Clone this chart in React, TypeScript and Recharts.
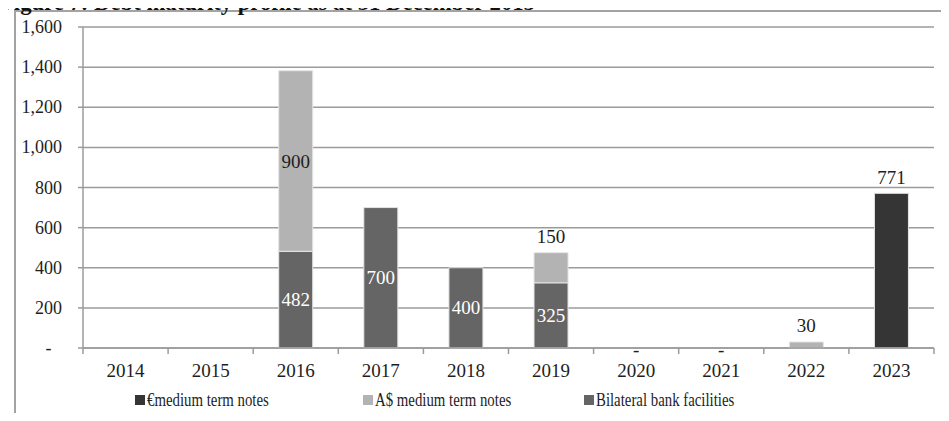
import React from 'react';
import { BarChart, Bar, XAxis, YAxis, CartesianGrid, Legend, LabelList } from 'recharts';

// Debt maturity profile (A$m)
const years = ['2014', '2015', '2016', '2017', '2018', '2019', '2020', '2021', '2022', '2023'];
const bilateralBank = [null, null, 482, 700, 400, 325, null, null, null, null];
const audMtn = [null, null, 900, null, null, 150, null, null, 30, null];
const euroMtn = [null, null, null, null, null, null, 0, 0, null, 771];
const yTicks = [0, 200, 400, 600, 800, 1000, 1200, 1400, 1600];

const data = years.map((year, i) => ({
  year,
  bilateral: bilateralBank[i],
  aud: audMtn[i],
  eur: euroMtn[i],
}));

const W = 949;
const H = 421;
const MARGIN = { top: 27, right: 15, left: 13, bottom: 9 };
const Y_AXIS_W = 70;
const BAND = (W - MARGIN.left - Y_AXIS_W - MARGIN.right) / years.length;

const FONT = '"Liberation Serif", "Times New Roman", serif';
const AXIS = '#9b9b9b';
const TEXT = '#1e1e1e';

const COLORS = {
  eur: '#353535',
  aud: '#b3b3b3',
  bilateral: '#656565',
};

const legendItems = [
  { key: 'eur', label: '€medium term notes', w: 228 },
  { key: 'aud', label: 'A$ medium term notes', w: 221 },
  { key: 'bilateral', label: 'Bilateral bank facilities', w: 200 },
];

// years whose only entry is a zero, shown as "-" on the baseline
const zeroYears = years.filter((_, i) => euroMtn[i] === 0);

const XTick = (props: any) => {
  const { x, y, payload, index } = props;
  const last = index === years.length - 1;
  return (
    <g>
      <line x1={x - BAND / 2} x2={x - BAND / 2} y1={y} y2={y + 6} stroke={AXIS} strokeWidth={1.5} />
      {last && <line x1={x + BAND / 2} x2={x + BAND / 2} y1={y} y2={y + 6} stroke={AXIS} strokeWidth={1.5} />}
      {zeroYears.includes(payload.value) && (
        <text x={x} y={y + 8} textAnchor="middle" fontSize={19} fontFamily={FONT} fill={TEXT}>
          -
        </text>
      )}
      <text x={x} y={y + 29} textAnchor="middle" fontSize={19} fontFamily={FONT} fill={TEXT}>
        {payload.value}
      </text>
    </g>
  );
};

const YTick = (props: any) => {
  const { x, y, payload } = props;
  if (payload.value === 0) {
    return (
      <text x={x - 13.5} y={y} textAnchor="middle" dominantBaseline="central" fontSize={18} fontFamily={FONT} fill={TEXT}>
        -
      </text>
    );
  }
  return (
    <text x={x} y={y} textAnchor="end" dominantBaseline="central" fontSize={18} fontFamily={FONT} fill={TEXT}>
      {payload.value.toLocaleString('en-US')}
    </text>
  );
};

// mode 'inside': centre of the segment; 'auto': centre when tall enough, else above; 'above': always above
const makeLabel = (fill: string, mode: 'inside' | 'auto' | 'above') => (props: any) => {
  const { x, y, width, height, value } = props;
  if (value === null || value === undefined || value === '' || Number(value) === 0) return null;
  const cx = Number(x) + Number(width) / 2;
  const top = Number(y);
  const h = Number(height) || 0;
  const inside = mode === 'inside' || (mode === 'auto' && h > 60);
  return (
    <text
      x={cx}
      y={inside ? top + h / 2 : top - 16}
      textAnchor="middle"
      dominantBaseline="central"
      fontSize={19}
      fontFamily={FONT}
      fill={inside ? fill : TEXT}
    >
      {value}
    </text>
  );
};

const renderLegend = () => (
  <div style={{ display: 'flex', paddingLeft: 135, height: 24, alignItems: 'center', fontFamily: FONT }}>
    {legendItems.map((it) => (
      <div key={it.key} style={{ width: it.w, display: 'flex', alignItems: 'center', flex: 'none' }}>
        <span style={{ width: 10, height: 10, background: (COLORS as any)[it.key], display: 'inline-block', marginRight: 2, flex: 'none' }} />
        <span
          style={{
            fontSize: 19.5,
            color: TEXT,
            whiteSpace: 'nowrap',
            display: 'inline-block',
            transform: 'scaleX(0.76)',
            transformOrigin: 'left center',
          }}
        >
          {it.label}
        </span>
      </div>
    ))}
  </div>
);

export default function App() {
  return (
    <div style={{ position: 'relative', width: W, height: H, margin: -8, overflow: 'hidden', background: '#fff' }}>
      <div
        style={{
          position: 'absolute',
          left: 0,
          top: -8,
          fontFamily: FONT,
          fontWeight: 'bold',
          fontSize: 22.7,
          lineHeight: '22px',
          whiteSpace: 'nowrap',
          color: '#111',
          zIndex: 2,
        }}
      >
        Figure 7: Debt maturity profile as at 31 December 2015
      </div>
      <div
        style={{
          position: 'absolute',
          left: 14,
          top: 10,
          right: 0,
          bottom: 0,
          borderLeft: '2px solid #a3a3a3',
          borderTop: '2px solid #a3a3a3',
        }}
      />
      <div style={{ position: 'absolute', left: 0, top: 0 }}>
        <BarChart width={W} height={H} data={data} margin={MARGIN} barCategoryGap="30%">
          <CartesianGrid vertical={false} stroke={AXIS} strokeWidth={1.5} />
          <XAxis
            dataKey="year"
            height={40}
            tickLine={false}
            tickSize={0}
            tickMargin={0}
            axisLine={{ stroke: AXIS, strokeWidth: 1.5 }}
            tick={<XTick />}
            interval={0}
          />
          <YAxis
            width={Y_AXIS_W}
            domain={[0, 1600]}
            ticks={yTicks}
            tickSize={5}
            tickMargin={16}
            tickLine={{ stroke: AXIS, strokeWidth: 1.5 }}
            axisLine={{ stroke: AXIS, strokeWidth: 1.5 }}
            tick={<YTick />}
            interval={0}
          />
          <Legend
            verticalAlign="bottom"
            content={renderLegend}
            wrapperStyle={{ left: 0, width: W, height: 24 }}
          />
          <Bar dataKey="bilateral" stackId="a" fill={COLORS.bilateral} stroke="#e4e4e4" strokeWidth={1} isAnimationActive={false}>
            <LabelList dataKey="bilateral" content={makeLabel('#ffffff', 'inside')} />
          </Bar>
          <Bar dataKey="aud" stackId="a" fill={COLORS.aud} stroke="#e4e4e4" strokeWidth={1} isAnimationActive={false}>
            <LabelList dataKey="aud" content={makeLabel(TEXT, 'auto')} />
          </Bar>
          <Bar dataKey="eur" stackId="a" fill={COLORS.eur} stroke="#e4e4e4" strokeWidth={1} isAnimationActive={false}>
            <LabelList dataKey="eur" content={makeLabel(TEXT, 'above')} />
          </Bar>
        </BarChart>
      </div>
    </div>
  );
}
